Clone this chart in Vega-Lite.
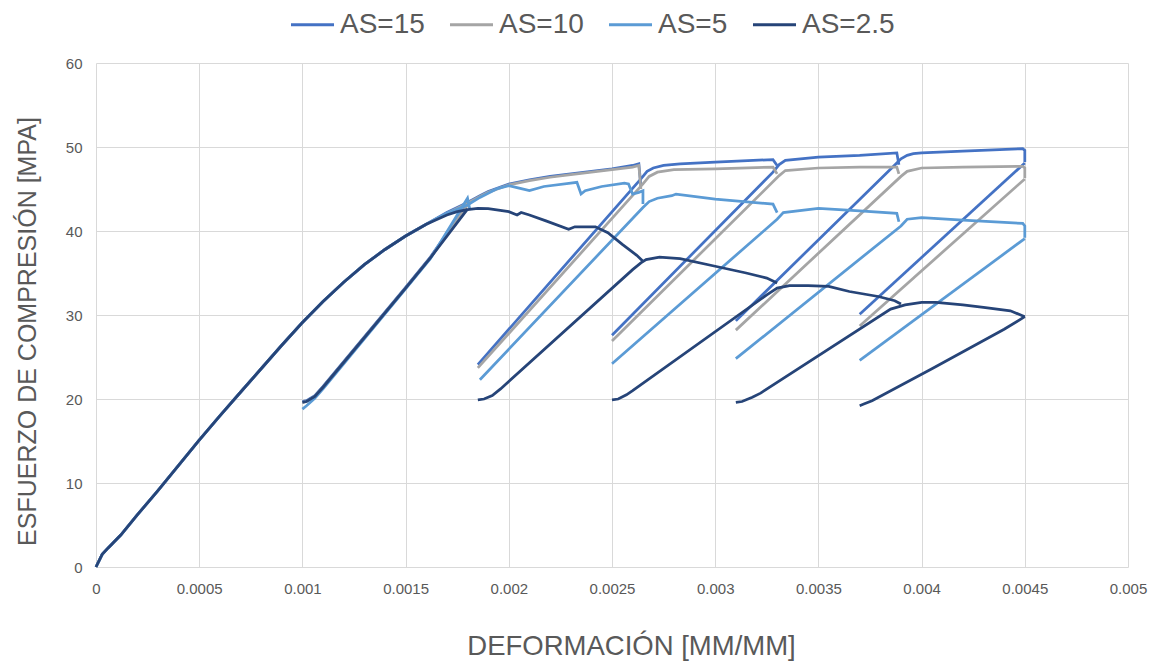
{
  "$schema": "https://vega.github.io/schema/vega-lite/v6.json",
  "width": 1032,
  "height": 504,
  "autosize": {"type": "none"},
  "padding": {"left": 96, "top": 63, "right": 32, "bottom": 95},
  "background": "white",
  "config": {
    "view": {"stroke": null},
    "font": "Liberation Sans",
    "axis": {
      "grid": true,
      "gridColor": "#D9D9D9",
      "gridWidth": 1,
      "domain": false,
      "ticks": false,
      "labelFont": "Liberation Sans",
      "labelFontSize": 15,
      "labelColor": "#595959",
      "labelFlush": false,
      "titleFont": "Liberation Sans",
      "titleFontWeight": "normal",
      "titleColor": "#595959"
    },
    "legend": {
      "labelFont": "Liberation Sans",
      "labelFontSize": 28,
      "labelColor": "#595959"
    }
  },
  "datasets": {
    "curves": [
      {"s":"AS=15","k":"a0","i":1,"x":0,"y":0},
      {"s":"AS=15","k":"a0","i":2,"x":0.00003,"y":1.5},
      {"s":"AS=15","k":"a0","i":3,"x":0.00006,"y":2.3},
      {"s":"AS=15","k":"a0","i":4,"x":0.00012,"y":3.8},
      {"s":"AS=15","k":"a0","i":5,"x":0.0002,"y":6.2},
      {"s":"AS=15","k":"a0","i":6,"x":0.0003,"y":9.1},
      {"s":"AS=15","k":"a0","i":7,"x":0.0004,"y":12.1},
      {"s":"AS=15","k":"a0","i":8,"x":0.0005,"y":15.1},
      {"s":"AS=15","k":"a0","i":9,"x":0.0006,"y":18.0},
      {"s":"AS=15","k":"a0","i":10,"x":0.0007,"y":20.8},
      {"s":"AS=15","k":"a0","i":11,"x":0.0008,"y":23.6},
      {"s":"AS=15","k":"a0","i":12,"x":0.0009,"y":26.4},
      {"s":"AS=15","k":"a0","i":13,"x":0.001,"y":29.1},
      {"s":"AS=15","k":"a0","i":14,"x":0.0011,"y":31.6},
      {"s":"AS=15","k":"a0","i":15,"x":0.0012,"y":33.9},
      {"s":"AS=15","k":"a0","i":16,"x":0.0013,"y":36.0},
      {"s":"AS=15","k":"a0","i":17,"x":0.0014,"y":37.8},
      {"s":"AS=15","k":"a0","i":18,"x":0.0015,"y":39.4},
      {"s":"AS=15","k":"a0","i":19,"x":0.0016,"y":40.8},
      {"s":"AS=15","k":"a0","i":20,"x":0.0017,"y":42.2},
      {"s":"AS=15","k":"a0","i":21,"x":0.0018,"y":43.4},
      {"s":"AS=15","k":"a0","i":22,"x":0.00186,"y":44.2},
      {"s":"AS=15","k":"a0","i":23,"x":0.0019,"y":44.7},
      {"s":"AS=15","k":"a0","i":24,"x":0.002,"y":45.6},
      {"s":"AS=15","k":"a0","i":25,"x":0.0021,"y":46.1},
      {"s":"AS=15","k":"a0","i":26,"x":0.0022,"y":46.5},
      {"s":"AS=15","k":"a0","i":27,"x":0.0023,"y":46.8},
      {"s":"AS=15","k":"a0","i":28,"x":0.0024,"y":47.1},
      {"s":"AS=15","k":"a0","i":29,"x":0.0025,"y":47.4},
      {"s":"AS=15","k":"a0","i":30,"x":0.0026,"y":47.8},
      {"s":"AS=15","k":"a0","i":31,"x":0.00263,"y":48.0},
      {"s":"AS=15","k":"a0","i":32,"x":0.00264,"y":45.4},
      {"s":"AS=15","k":"a1","i":1,"x":0.001,"y":19.7},
      {"s":"AS=15","k":"a1","i":2,"x":0.00102,"y":19.8},
      {"s":"AS=15","k":"a1","i":3,"x":0.00106,"y":20.4},
      {"s":"AS=15","k":"a1","i":4,"x":0.0011,"y":21.5},
      {"s":"AS=15","k":"a1","i":5,"x":0.0015,"y":33.3},
      {"s":"AS=15","k":"a1","i":6,"x":0.00162,"y":36.9},
      {"s":"AS=15","k":"a1","i":7,"x":0.0018,"y":43.2},
      {"s":"AS=15","k":"a2","i":1,"x":0.00185,"y":24.1},
      {"s":"AS=15","k":"a2","i":2,"x":0.00264,"y":46.2},
      {"s":"AS=15","k":"a2","i":3,"x":0.00267,"y":47.1},
      {"s":"AS=15","k":"a2","i":4,"x":0.0027,"y":47.5},
      {"s":"AS=15","k":"a2","i":5,"x":0.00275,"y":47.8},
      {"s":"AS=15","k":"a2","i":6,"x":0.00283,"y":48.0},
      {"s":"AS=15","k":"a2","i":7,"x":0.003,"y":48.2},
      {"s":"AS=15","k":"a2","i":8,"x":0.00328,"y":48.5},
      {"s":"AS=15","k":"a2","i":9,"x":0.0033,"y":47.8},
      {"s":"AS=15","k":"a3","i":1,"x":0.0025,"y":27.6},
      {"s":"AS=15","k":"a3","i":2,"x":0.00328,"y":47.0},
      {"s":"AS=15","k":"a3","i":3,"x":0.00331,"y":47.9},
      {"s":"AS=15","k":"a3","i":4,"x":0.00334,"y":48.4},
      {"s":"AS=15","k":"a3","i":5,"x":0.0035,"y":48.8},
      {"s":"AS=15","k":"a3","i":6,"x":0.0037,"y":49.0},
      {"s":"AS=15","k":"a3","i":7,"x":0.00388,"y":49.3},
      {"s":"AS=15","k":"a3","i":8,"x":0.00389,"y":47.9},
      {"s":"AS=15","k":"a4","i":1,"x":0.0031,"y":29.3},
      {"s":"AS=15","k":"a4","i":2,"x":0.00388,"y":48.1},
      {"s":"AS=15","k":"a4","i":3,"x":0.0039,"y":48.6},
      {"s":"AS=15","k":"a4","i":4,"x":0.00393,"y":49.0},
      {"s":"AS=15","k":"a4","i":5,"x":0.00396,"y":49.2},
      {"s":"AS=15","k":"a4","i":6,"x":0.004,"y":49.3},
      {"s":"AS=15","k":"a4","i":7,"x":0.0042,"y":49.5},
      {"s":"AS=15","k":"a4","i":8,"x":0.00449,"y":49.8},
      {"s":"AS=15","k":"a4","i":9,"x":0.0045,"y":49.6},
      {"s":"AS=15","k":"a4","i":10,"x":0.0045,"y":48.2},
      {"s":"AS=15","k":"a5","i":1,"x":0.0037,"y":30.1},
      {"s":"AS=15","k":"a5","i":2,"x":0.0045,"y":48.1},

      {"s":"AS=10","k":"b0","i":1,"x":0,"y":0},
      {"s":"AS=10","k":"b0","i":2,"x":0.00003,"y":1.5},
      {"s":"AS=10","k":"b0","i":3,"x":0.00006,"y":2.3},
      {"s":"AS=10","k":"b0","i":4,"x":0.00012,"y":3.8},
      {"s":"AS=10","k":"b0","i":5,"x":0.0002,"y":6.2},
      {"s":"AS=10","k":"b0","i":6,"x":0.0003,"y":9.1},
      {"s":"AS=10","k":"b0","i":7,"x":0.0004,"y":12.1},
      {"s":"AS=10","k":"b0","i":8,"x":0.0005,"y":15.1},
      {"s":"AS=10","k":"b0","i":9,"x":0.0006,"y":18.0},
      {"s":"AS=10","k":"b0","i":10,"x":0.0007,"y":20.8},
      {"s":"AS=10","k":"b0","i":11,"x":0.0008,"y":23.6},
      {"s":"AS=10","k":"b0","i":12,"x":0.0009,"y":26.4},
      {"s":"AS=10","k":"b0","i":13,"x":0.001,"y":29.1},
      {"s":"AS=10","k":"b0","i":14,"x":0.0011,"y":31.6},
      {"s":"AS=10","k":"b0","i":15,"x":0.0012,"y":33.9},
      {"s":"AS=10","k":"b0","i":16,"x":0.0013,"y":36.0},
      {"s":"AS=10","k":"b0","i":17,"x":0.0014,"y":37.8},
      {"s":"AS=10","k":"b0","i":18,"x":0.0015,"y":39.4},
      {"s":"AS=10","k":"b0","i":19,"x":0.0016,"y":40.8},
      {"s":"AS=10","k":"b0","i":20,"x":0.0017,"y":42.1},
      {"s":"AS=10","k":"b0","i":21,"x":0.0018,"y":43.3},
      {"s":"AS=10","k":"b0","i":22,"x":0.00186,"y":44.1},
      {"s":"AS=10","k":"b0","i":23,"x":0.0019,"y":44.6},
      {"s":"AS=10","k":"b0","i":24,"x":0.002,"y":45.5},
      {"s":"AS=10","k":"b0","i":25,"x":0.0021,"y":46.0},
      {"s":"AS=10","k":"b0","i":26,"x":0.0022,"y":46.4},
      {"s":"AS=10","k":"b0","i":27,"x":0.0023,"y":46.7},
      {"s":"AS=10","k":"b0","i":28,"x":0.0024,"y":47.0},
      {"s":"AS=10","k":"b0","i":29,"x":0.0025,"y":47.3},
      {"s":"AS=10","k":"b0","i":30,"x":0.0026,"y":47.6},
      {"s":"AS=10","k":"b0","i":31,"x":0.00263,"y":47.8},
      {"s":"AS=10","k":"b0","i":32,"x":0.00264,"y":45.0},
      {"s":"AS=10","k":"b1","i":1,"x":0.001,"y":19.6},
      {"s":"AS=10","k":"b1","i":2,"x":0.00102,"y":19.7},
      {"s":"AS=10","k":"b1","i":3,"x":0.00106,"y":20.3},
      {"s":"AS=10","k":"b1","i":4,"x":0.0011,"y":21.4},
      {"s":"AS=10","k":"b1","i":5,"x":0.0015,"y":33.2},
      {"s":"AS=10","k":"b1","i":6,"x":0.00162,"y":36.8},
      {"s":"AS=10","k":"b1","i":7,"x":0.0018,"y":43.1},
      {"s":"AS=10","k":"b2","i":1,"x":0.00185,"y":23.7},
      {"s":"AS=10","k":"b2","i":2,"x":0.00265,"y":45.6},
      {"s":"AS=10","k":"b2","i":3,"x":0.00268,"y":46.5},
      {"s":"AS=10","k":"b2","i":4,"x":0.00272,"y":47.0},
      {"s":"AS=10","k":"b2","i":5,"x":0.0028,"y":47.3},
      {"s":"AS=10","k":"b2","i":6,"x":0.003,"y":47.4},
      {"s":"AS=10","k":"b2","i":7,"x":0.00328,"y":47.6},
      {"s":"AS=10","k":"b2","i":8,"x":0.0033,"y":46.8},
      {"s":"AS=10","k":"b3","i":1,"x":0.0025,"y":26.9},
      {"s":"AS=10","k":"b3","i":2,"x":0.00331,"y":46.6},
      {"s":"AS=10","k":"b3","i":3,"x":0.00334,"y":47.2},
      {"s":"AS=10","k":"b3","i":4,"x":0.0035,"y":47.5},
      {"s":"AS=10","k":"b3","i":5,"x":0.0037,"y":47.6},
      {"s":"AS=10","k":"b3","i":6,"x":0.00388,"y":47.6},
      {"s":"AS=10","k":"b3","i":7,"x":0.00389,"y":46.8},
      {"s":"AS=10","k":"b4","i":1,"x":0.0031,"y":28.2},
      {"s":"AS=10","k":"b4","i":2,"x":0.0039,"y":46.5},
      {"s":"AS=10","k":"b4","i":3,"x":0.00393,"y":47.1},
      {"s":"AS=10","k":"b4","i":4,"x":0.004,"y":47.5},
      {"s":"AS=10","k":"b4","i":5,"x":0.0042,"y":47.6},
      {"s":"AS=10","k":"b4","i":6,"x":0.00449,"y":47.7},
      {"s":"AS=10","k":"b4","i":7,"x":0.0045,"y":47.5},
      {"s":"AS=10","k":"b4","i":8,"x":0.0045,"y":46.3},
      {"s":"AS=10","k":"b5","i":1,"x":0.0037,"y":28.7},
      {"s":"AS=10","k":"b5","i":2,"x":0.0045,"y":46.2},

      {"s":"AS=5","k":"c0","i":1,"x":0,"y":0},
      {"s":"AS=5","k":"c0","i":2,"x":0.00003,"y":1.5},
      {"s":"AS=5","k":"c0","i":3,"x":0.00006,"y":2.3},
      {"s":"AS=5","k":"c0","i":4,"x":0.00012,"y":3.8},
      {"s":"AS=5","k":"c0","i":5,"x":0.0002,"y":6.2},
      {"s":"AS=5","k":"c0","i":6,"x":0.0003,"y":9.1},
      {"s":"AS=5","k":"c0","i":7,"x":0.0004,"y":12.1},
      {"s":"AS=5","k":"c0","i":8,"x":0.0005,"y":15.1},
      {"s":"AS=5","k":"c0","i":9,"x":0.0006,"y":18.0},
      {"s":"AS=5","k":"c0","i":10,"x":0.0007,"y":20.8},
      {"s":"AS=5","k":"c0","i":11,"x":0.0008,"y":23.6},
      {"s":"AS=5","k":"c0","i":12,"x":0.0009,"y":26.4},
      {"s":"AS=5","k":"c0","i":13,"x":0.001,"y":29.1},
      {"s":"AS=5","k":"c0","i":14,"x":0.0011,"y":31.6},
      {"s":"AS=5","k":"c0","i":15,"x":0.0012,"y":33.9},
      {"s":"AS=5","k":"c0","i":16,"x":0.0013,"y":36.0},
      {"s":"AS=5","k":"c0","i":17,"x":0.0014,"y":37.8},
      {"s":"AS=5","k":"c0","i":18,"x":0.0015,"y":39.4},
      {"s":"AS=5","k":"c0","i":19,"x":0.0016,"y":40.8},
      {"s":"AS=5","k":"c0","i":20,"x":0.0017,"y":42.1},
      {"s":"AS=5","k":"c0","i":21,"x":0.0018,"y":43.1},
      {"s":"AS=5","k":"c0","i":22,"x":0.00186,"y":44.0},
      {"s":"AS=5","k":"c0","i":23,"x":0.0019,"y":44.5},
      {"s":"AS=5","k":"c0","i":24,"x":0.00194,"y":45.0},
      {"s":"AS=5","k":"c0","i":25,"x":0.002,"y":45.4},
      {"s":"AS=5","k":"c0","i":26,"x":0.00205,"y":45.1},
      {"s":"AS=5","k":"c0","i":27,"x":0.0021,"y":44.8},
      {"s":"AS=5","k":"c0","i":28,"x":0.00217,"y":45.3},
      {"s":"AS=5","k":"c0","i":29,"x":0.0023,"y":45.7},
      {"s":"AS=5","k":"c0","i":30,"x":0.00233,"y":45.8},
      {"s":"AS=5","k":"c0","i":31,"x":0.00235,"y":44.4},
      {"s":"AS=5","k":"c0","i":32,"x":0.00237,"y":44.8},
      {"s":"AS=5","k":"c0","i":33,"x":0.00245,"y":45.3},
      {"s":"AS=5","k":"c0","i":34,"x":0.00256,"y":45.7},
      {"s":"AS=5","k":"c0","i":35,"x":0.00258,"y":45.6},
      {"s":"AS=5","k":"c0","i":36,"x":0.0026,"y":44.4},
      {"s":"AS=5","k":"c0","i":37,"x":0.00263,"y":44.6},
      {"s":"AS=5","k":"c0","i":38,"x":0.00265,"y":44.8},
      {"s":"AS=5","k":"c0","i":39,"x":0.00265,"y":43.2},
      {"s":"AS=5","k":"c1","i":1,"x":0.001,"y":18.8},
      {"s":"AS=5","k":"c1","i":2,"x":0.00102,"y":19.2},
      {"s":"AS=5","k":"c1","i":3,"x":0.00106,"y":20.1},
      {"s":"AS=5","k":"c1","i":4,"x":0.0011,"y":21.2},
      {"s":"AS=5","k":"c1","i":5,"x":0.0015,"y":33.1},
      {"s":"AS=5","k":"c1","i":6,"x":0.00162,"y":36.7},
      {"s":"AS=5","k":"c1","i":7,"x":0.0018,"y":43.9},
      {"s":"AS=5","k":"c1","i":8,"x":0.00181,"y":42.7},
      {"s":"AS=5","k":"c2","i":1,"x":0.00186,"y":22.3},
      {"s":"AS=5","k":"c2","i":2,"x":0.00265,"y":42.8},
      {"s":"AS=5","k":"c2","i":3,"x":0.00268,"y":43.5},
      {"s":"AS=5","k":"c2","i":4,"x":0.00272,"y":43.9},
      {"s":"AS=5","k":"c2","i":5,"x":0.00279,"y":44.2},
      {"s":"AS=5","k":"c2","i":6,"x":0.00281,"y":44.4},
      {"s":"AS=5","k":"c2","i":7,"x":0.003,"y":43.8},
      {"s":"AS=5","k":"c2","i":8,"x":0.00328,"y":43.2},
      {"s":"AS=5","k":"c2","i":9,"x":0.0033,"y":42.2},
      {"s":"AS=5","k":"c3","i":1,"x":0.0025,"y":24.2},
      {"s":"AS=5","k":"c3","i":2,"x":0.0033,"y":41.4},
      {"s":"AS=5","k":"c3","i":3,"x":0.00333,"y":42.2},
      {"s":"AS=5","k":"c3","i":4,"x":0.0035,"y":42.7},
      {"s":"AS=5","k":"c3","i":5,"x":0.0037,"y":42.4},
      {"s":"AS=5","k":"c3","i":6,"x":0.00388,"y":42.1},
      {"s":"AS=5","k":"c3","i":7,"x":0.00389,"y":41.1},
      {"s":"AS=5","k":"c4","i":1,"x":0.0031,"y":24.8},
      {"s":"AS=5","k":"c4","i":2,"x":0.0039,"y":40.6},
      {"s":"AS=5","k":"c4","i":3,"x":0.00393,"y":41.4},
      {"s":"AS=5","k":"c4","i":4,"x":0.004,"y":41.6},
      {"s":"AS=5","k":"c4","i":5,"x":0.0042,"y":41.3},
      {"s":"AS=5","k":"c4","i":6,"x":0.00449,"y":40.9},
      {"s":"AS=5","k":"c4","i":7,"x":0.0045,"y":40.6},
      {"s":"AS=5","k":"c4","i":8,"x":0.0045,"y":39.2},
      {"s":"AS=5","k":"c5","i":1,"x":0.0037,"y":24.6},
      {"s":"AS=5","k":"c5","i":2,"x":0.0045,"y":39.1},

      {"s":"AS=2.5","k":"d0","i":1,"x":0,"y":0},
      {"s":"AS=2.5","k":"d0","i":2,"x":0.00003,"y":1.5},
      {"s":"AS=2.5","k":"d0","i":3,"x":0.00006,"y":2.3},
      {"s":"AS=2.5","k":"d0","i":4,"x":0.00012,"y":3.8},
      {"s":"AS=2.5","k":"d0","i":5,"x":0.0002,"y":6.2},
      {"s":"AS=2.5","k":"d0","i":6,"x":0.0003,"y":9.1},
      {"s":"AS=2.5","k":"d0","i":7,"x":0.0004,"y":12.1},
      {"s":"AS=2.5","k":"d0","i":8,"x":0.0005,"y":15.1},
      {"s":"AS=2.5","k":"d0","i":9,"x":0.0006,"y":18.0},
      {"s":"AS=2.5","k":"d0","i":10,"x":0.0007,"y":20.8},
      {"s":"AS=2.5","k":"d0","i":11,"x":0.0008,"y":23.6},
      {"s":"AS=2.5","k":"d0","i":12,"x":0.0009,"y":26.4},
      {"s":"AS=2.5","k":"d0","i":13,"x":0.001,"y":29.1},
      {"s":"AS=2.5","k":"d0","i":14,"x":0.0011,"y":31.6},
      {"s":"AS=2.5","k":"d0","i":15,"x":0.0012,"y":33.9},
      {"s":"AS=2.5","k":"d0","i":16,"x":0.0013,"y":36.0},
      {"s":"AS=2.5","k":"d0","i":17,"x":0.0014,"y":37.8},
      {"s":"AS=2.5","k":"d0","i":18,"x":0.0015,"y":39.4},
      {"s":"AS=2.5","k":"d0","i":19,"x":0.0016,"y":40.8},
      {"s":"AS=2.5","k":"d0","i":20,"x":0.0017,"y":41.9},
      {"s":"AS=2.5","k":"d0","i":21,"x":0.00175,"y":42.3},
      {"s":"AS=2.5","k":"d0","i":22,"x":0.0018,"y":42.55},
      {"s":"AS=2.5","k":"d0","i":23,"x":0.00185,"y":42.7},
      {"s":"AS=2.5","k":"d0","i":24,"x":0.0019,"y":42.65},
      {"s":"AS=2.5","k":"d0","i":25,"x":0.002,"y":42.3},
      {"s":"AS=2.5","k":"d0","i":26,"x":0.00204,"y":41.9},
      {"s":"AS=2.5","k":"d0","i":27,"x":0.00206,"y":42.2},
      {"s":"AS=2.5","k":"d0","i":28,"x":0.0021,"y":41.9},
      {"s":"AS=2.5","k":"d0","i":29,"x":0.00218,"y":41.2},
      {"s":"AS=2.5","k":"d0","i":30,"x":0.00229,"y":40.2},
      {"s":"AS=2.5","k":"d0","i":31,"x":0.00232,"y":40.5},
      {"s":"AS=2.5","k":"d0","i":32,"x":0.00242,"y":40.5},
      {"s":"AS=2.5","k":"d0","i":33,"x":0.00248,"y":39.8},
      {"s":"AS=2.5","k":"d0","i":34,"x":0.00255,"y":38.4},
      {"s":"AS=2.5","k":"d0","i":35,"x":0.00262,"y":37.1},
      {"s":"AS=2.5","k":"d0","i":36,"x":0.00265,"y":36.4},
      {"s":"AS=2.5","k":"d1","i":1,"x":0.001,"y":19.6},
      {"s":"AS=2.5","k":"d1","i":2,"x":0.00102,"y":19.7},
      {"s":"AS=2.5","k":"d1","i":3,"x":0.00106,"y":20.3},
      {"s":"AS=2.5","k":"d1","i":4,"x":0.0011,"y":21.4},
      {"s":"AS=2.5","k":"d1","i":5,"x":0.0015,"y":33.2},
      {"s":"AS=2.5","k":"d1","i":6,"x":0.00162,"y":36.8},
      {"s":"AS=2.5","k":"d1","i":7,"x":0.0018,"y":42.6},
      {"s":"AS=2.5","k":"d2","i":1,"x":0.00185,"y":19.9},
      {"s":"AS=2.5","k":"d2","i":2,"x":0.00188,"y":20.0},
      {"s":"AS=2.5","k":"d2","i":3,"x":0.00192,"y":20.4},
      {"s":"AS=2.5","k":"d2","i":4,"x":0.00196,"y":21.2},
      {"s":"AS=2.5","k":"d2","i":5,"x":0.0026,"y":35.4},
      {"s":"AS=2.5","k":"d2","i":6,"x":0.00264,"y":36.2},
      {"s":"AS=2.5","k":"d2","i":7,"x":0.002665,"y":36.6},
      {"s":"AS=2.5","k":"d2","i":8,"x":0.00273,"y":36.9},
      {"s":"AS=2.5","k":"d2","i":9,"x":0.00283,"y":36.7},
      {"s":"AS=2.5","k":"d2","i":10,"x":0.003,"y":35.8},
      {"s":"AS=2.5","k":"d2","i":11,"x":0.00315,"y":35.0},
      {"s":"AS=2.5","k":"d2","i":12,"x":0.00325,"y":34.4},
      {"s":"AS=2.5","k":"d2","i":13,"x":0.0033,"y":33.8},
      {"s":"AS=2.5","k":"d3","i":1,"x":0.0025,"y":19.9},
      {"s":"AS=2.5","k":"d3","i":2,"x":0.00253,"y":20.0},
      {"s":"AS=2.5","k":"d3","i":3,"x":0.00257,"y":20.5},
      {"s":"AS=2.5","k":"d3","i":4,"x":0.0026,"y":21.0},
      {"s":"AS=2.5","k":"d3","i":5,"x":0.00325,"y":32.4},
      {"s":"AS=2.5","k":"d3","i":6,"x":0.0033,"y":33.2},
      {"s":"AS=2.5","k":"d3","i":7,"x":0.00336,"y":33.5},
      {"s":"AS=2.5","k":"d3","i":8,"x":0.00345,"y":33.5},
      {"s":"AS=2.5","k":"d3","i":9,"x":0.00355,"y":33.4},
      {"s":"AS=2.5","k":"d3","i":10,"x":0.00365,"y":32.8},
      {"s":"AS=2.5","k":"d3","i":11,"x":0.00379,"y":32.2},
      {"s":"AS=2.5","k":"d3","i":12,"x":0.00387,"y":31.7},
      {"s":"AS=2.5","k":"d3","i":13,"x":0.0039,"y":31.3},
      {"s":"AS=2.5","k":"d4","i":1,"x":0.0031,"y":19.6},
      {"s":"AS=2.5","k":"d4","i":2,"x":0.00313,"y":19.7},
      {"s":"AS=2.5","k":"d4","i":3,"x":0.00318,"y":20.2},
      {"s":"AS=2.5","k":"d4","i":4,"x":0.00322,"y":20.7},
      {"s":"AS=2.5","k":"d4","i":5,"x":0.00385,"y":30.7},
      {"s":"AS=2.5","k":"d4","i":6,"x":0.00392,"y":31.2},
      {"s":"AS=2.5","k":"d4","i":7,"x":0.004,"y":31.5},
      {"s":"AS=2.5","k":"d4","i":8,"x":0.00407,"y":31.5},
      {"s":"AS=2.5","k":"d4","i":9,"x":0.0042,"y":31.2},
      {"s":"AS=2.5","k":"d4","i":10,"x":0.0043,"y":30.9},
      {"s":"AS=2.5","k":"d4","i":11,"x":0.00443,"y":30.5},
      {"s":"AS=2.5","k":"d4","i":12,"x":0.0045,"y":29.8},
      {"s":"AS=2.5","k":"d5","i":1,"x":0.0037,"y":19.2},
      {"s":"AS=2.5","k":"d5","i":2,"x":0.00372,"y":19.4},
      {"s":"AS=2.5","k":"d5","i":3,"x":0.00376,"y":19.8},
      {"s":"AS=2.5","k":"d5","i":4,"x":0.00405,"y":23.6},
      {"s":"AS=2.5","k":"d5","i":5,"x":0.0044,"y":28.3},
      {"s":"AS=2.5","k":"d5","i":6,"x":0.0045,"y":29.8}
    ]
  },
  "data": {"name": "curves"},
  "encoding": {
    "x": {
      "field": "x",
      "type": "quantitative",
      "scale": {"domain": [0, 0.005], "nice": false, "zero": false},
      "axis": {
        "values": [0, 0.0005, 0.001, 0.0015, 0.002, 0.0025, 0.003, 0.0035, 0.004, 0.0045, 0.005],
        "format": "~g",
        "labelPadding": 14,
        "title": "DEFORMACIÓN [MM/MM]",
        "titleFontSize": 27.5,
        "titleX": 535,
        "titleY": 79,
        "titleAlign": "center",
        "titleBaseline": "middle"
      }
    },
    "y": {
      "field": "y",
      "type": "quantitative",
      "scale": {"domain": [0, 60], "nice": false},
      "axis": {
        "values": [0, 10, 20, 30, 40, 50, 60],
        "labelPadding": 14,
        "title": "ESFUERZO DE COMPRESIÓN [MPA]",
        "titleFontSize": 25,
        "titleX": -69,
        "titleY": 268,
        "titleAngle": -90,
        "titleAlign": "center",
        "titleBaseline": "middle"
      }
    },
    "color": {
      "field": "s",
      "type": "nominal",
      "scale": {
        "domain": ["AS=15", "AS=10", "AS=5", "AS=2.5"],
        "range": ["#4472C4", "#A5A5A5", "#5B9BD5", "#264478"]
      },
      "legend": {
        "title": null,
        "orient": "none",
        "direction": "horizontal",
        "legendX": 193,
        "legendY": -62,
        "symbolType": "stroke",
        "symbolSize": 1850,
        "symbolStrokeWidth": 3,
        "labelOffset": 4,
        "columnPadding": 18
      }
    },
    "detail": {"field": "k"},
    "order": {"field": "i", "type": "quantitative"}
  },
  "layer": [
    {"transform": [{"filter": "datum.s === 'AS=15'"}], "mark": {"type": "line", "strokeWidth": 2.75}},
    {"transform": [{"filter": "datum.s === 'AS=10'"}], "mark": {"type": "line", "strokeWidth": 2.75}},
    {"transform": [{"filter": "datum.s === 'AS=5'"}], "mark": {"type": "line", "strokeWidth": 2.75}},
    {"transform": [{"filter": "datum.s === 'AS=2.5'"}], "mark": {"type": "line", "strokeWidth": 2.75}}
  ]
}
